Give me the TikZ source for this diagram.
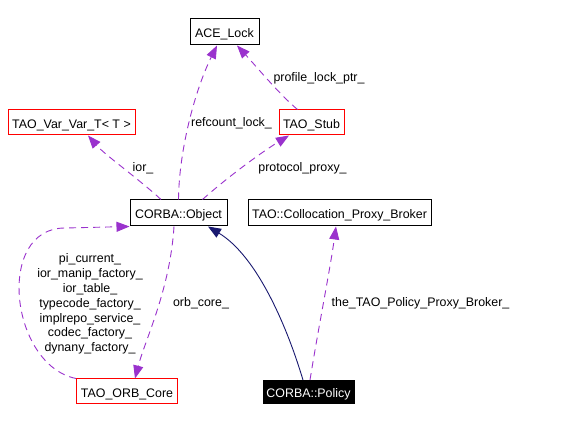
\documentclass[tikz,border=0pt]{standalone}
\usepackage{fontspec}
\setmainfont{Liberation Sans}
\usetikzlibrary{arrows.meta}
\definecolor{edgepurple}{HTML}{9A32CD}
\definecolor{edgenavy}{HTML}{191970}
\begin{document}
\begin{tikzpicture}[x=1pt,y=-1pt,
  every node/.style={font=\fontsize{12.4}{14.83}\selectfont},
  box/.style={draw=black, line width=1pt, rectangle, inner sep=0pt, text height=12pt, text depth=0pt},
  redbox/.style={box, draw=red},
  focusbox/.style={box, fill=black, text=white},
  usage/.style={draw=edgepurple, line width=0.9pt, dash pattern=on 7pt off 5pt, -{Triangle[length=13pt,width=10pt]}},
  inherit/.style={draw=edgenavy, line width=0.9pt, -{Triangle[length=13pt,width=10pt]}},
  lbl/.style={anchor=base, inner sep=0pt}
]
\useasboundingbox[fill=white] (0,0) rectangle (566,422);

\node[box, minimum width=69pt, minimum height=26pt] (ace) at (224.5,32) {ACE\_Lock};
\node[redbox, minimum width=127pt, minimum height=25pt] (var) at (71.5,122.5) {TAO\_Var\_Var\_T\textless{} T \textgreater};
\node[redbox, minimum width=65pt, minimum height=25pt] (stub) at (311.5,122.5) {TAO\_Stub};
\node[box, minimum width=97pt, minimum height=26pt] (obj) at (178.5,213) {CORBA::Object};
\node[box, minimum width=183pt, minimum height=26pt] (collo) at (339.5,213) {TAO::Collocation\_Proxy\_Broker};
\node[redbox, minimum width=101pt, minimum height=25pt] (orb) at (127,391.5) {TAO\_ORB\_Core};
\node[focusbox, minimum width=91pt, minimum height=23pt] (policy) at (308.5,392) {CORBA::Policy};

\draw[usage] (obj.north) .. controls (179,150) and (195,90) .. ([xshift=-7.5]ace.south);
\draw[usage] ([xshift=-14]stub.north) .. controls (280,95) and (255,65) .. ([xshift=12.5]ace.south);
\draw[usage] ([xshift=-17.5]obj.north) .. controls (140,180) and (105,155) .. ([xshift=16.5]var.south);
\draw[usage] ([xshift=24]obj.north) .. controls (230,175) and (265,150) .. ([xshift=-22.5]stub.south);
\draw[usage] ([xshift=-4.5]obj.south) .. controls (170,290) and (145,340) .. ([xshift=8]orb.north);
\draw[usage] (orb.north west) .. controls (10,365) and (-5,228) .. (65,228) -- (obj.south west);
\draw[usage] ([xshift=1.5]policy.north) .. controls (318,330) and (330,270) .. ([xshift=-3.5]collo.south);
\draw[inherit] ([xshift=-5.5]policy.north) .. controls (285,320) and (255,255) .. ([xshift=29.5]obj.south);

\node[lbl] (lrefcount) at (231.5,127) {refcount\_lock\_};
\node[lbl] (lprofile) at (319,82) {profile\_lock\_ptr\_};
\node[lbl] (lior) at (143,172) {ior\_};
\node[lbl] (lproto) at (302.5,172) {protocol\_proxy\_};
\node[lbl] (lorb) at (201,307) {orb\_core\_};
\node[lbl] (lbroker) at (420.5,307) {the\_TAO\_Policy\_Proxy\_Broker\_};
\node[align=center, inner sep=0pt] (lmulti) at (90,304) {pi\_current\_\\ior\_manip\_factory\_\\ior\_table\_\\typecode\_factory\_\\implrepo\_service\_\\codec\_factory\_\\dynany\_factory\_};
\end{tikzpicture}
\end{document}
